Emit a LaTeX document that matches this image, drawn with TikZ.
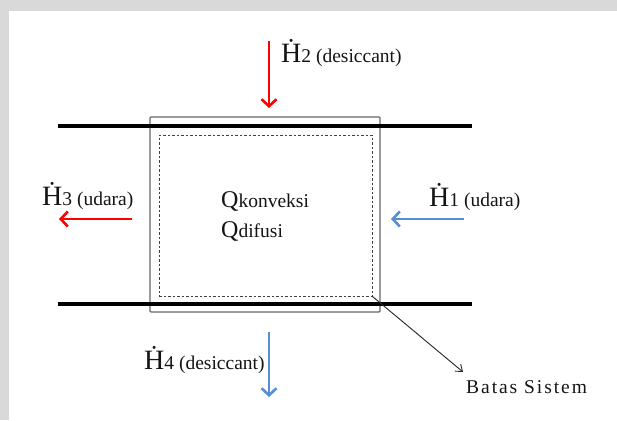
\documentclass[tikz,border=0pt]{standalone}
\usepackage{fontspec}
\setmainfont{Liberation Serif}
\usetikzlibrary{arrows.meta}
\definecolor{bgray}{RGB}{217,217,217}
\definecolor{hred}{RGB}{255,0,0}
\definecolor{hblue}{RGB}{85,142,213}
\definecolor{txt}{RGB}{20,20,20}
\newcommand{\Hlab}[1]{{\fontsize{28}{28}\selectfont\.{H}}{\fontsize{19.5}{19.5}\selectfont #1}}
\newcommand{\Qlab}[1]{{\fontsize{24}{24}\selectfont Q}{\fontsize{19.5}{19.5}\selectfont #1}}
\tikzset{
  lab/.style={anchor=base west, inner sep=0pt, text=txt},
  flow/.style={line width=2.6pt, -{Straight Barb[length=7pt,width=15pt,line width=2.6pt]}},
  pipe/.style={line width=4.5pt},
}
\begin{document}
\begin{tikzpicture}[x=1pt,y=-1pt]
\fill[bgray] (0,0) rectangle (617,420);
\fill[white] (9,11) rectangle (617,420);
\useasboundingbox (0,0) rectangle (617,420);

% boxes
\node (outer) [draw=black!60, line width=1.3pt, rounded corners=1pt, minimum width=230pt, minimum height=195pt, inner sep=0pt] at (265,214.5) {};
\node (inner) [draw=black!75, dashed, dash pattern=on 2.5pt off 2pt, line width=1pt, minimum width=213pt, minimum height=161pt, inner sep=0pt] at (265.5,215.5) {};

% pipes
\coordinate (p1a) at (58,126); \coordinate (p1b) at (472,126);
\coordinate (p2a) at (58,304); \coordinate (p2b) at (472,304);
\draw[pipe] (p1a) -- (p1b);
\draw[pipe] (p2a) -- (p2b);

% flows
\coordinate (h2s) at (269,41); \coordinate (h2e) at (269,108);
\draw[flow, hred] (h2s) -- (h2e);
\coordinate (h3s) at (132,219); \coordinate (h3e) at (59,219);
\draw[flow, hred] (h3s) -- (h3e);
\coordinate (h1s) at (464,219); \coordinate (h1e) at (391,219);
\draw[flow, hblue] (h1s) -- (h1e);
\coordinate (h4s) at (269,332); \coordinate (h4e) at (269,397);
\draw[flow, hblue] (h4s) -- (h4e);

% labels
\node[lab] (h2l) at (281,62) {\Hlab{2 (desiccant)}};
\node[lab] (h3l) at (42,205) {\Hlab{3 (udara)}};
\node[lab] (h1l) at (429,206) {\Hlab{1 (udara)}};
\node[lab] (h4l) at (144,369) {\Hlab{4 (desiccant)}};
\node[lab] (qk) at (221,207) {\Qlab{konveksi}};
\node[lab] (qd) at (221,237) {\Qlab{difusi}};
\node[lab] (bs) at (466,393) {\fontsize{19.5}{19.5}\selectfont\addfontfeature{LetterSpace=10}Batas Sistem};

% boundary pointer
\draw[line width=0.9pt, black!85, -{Straight Barb[length=6pt,width=9pt]}] (inner.south east) -- (463,372);
\end{tikzpicture}
\end{document}
